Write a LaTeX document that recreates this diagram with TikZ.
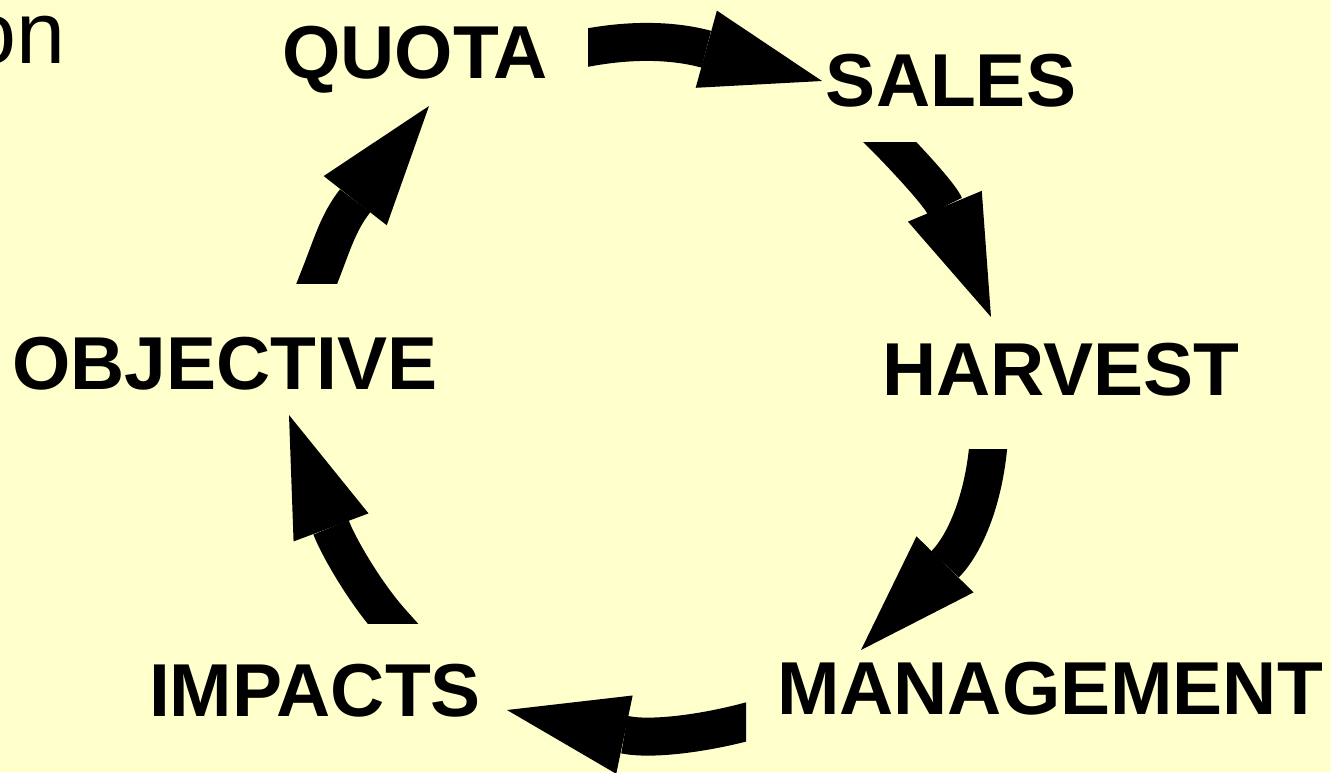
\documentclass[tikz,border=0pt]{standalone}
\usepackage{fontspec}
\setmainfont{Liberation Sans}
\usetikzlibrary{arrows.meta}
\definecolor{fond}{RGB}{255,255,204}

\tikzset{
  stage/.style={font=\bfseries\fontsize{75}{90}\selectfont, inner sep=0pt, anchor=base},
  flow/.style={line width=38pt, line cap=butt,
    -{Triangle[length=120pt, width=80pt, line width=0pt]}}
}

\begin{document}
\begin{tikzpicture}[x=1pt, y=-1pt]

  \fill[fond] (0,0) rectangle (1331,772);
  \useasboundingbox (0,0) rectangle (1331,772);
  \clip (0,0) rectangle (1331,772);

  % Reste du titre
  \node[inner sep=0pt, anchor=base east, font=\fontsize{88}{100}\selectfont] (titre) at (66,63) {on};

  % Etapes du cycle
  \node[stage] (quota)     at (415,78)    {QUOTA};
  \node[stage] (sales)     at (951,106)   {SALES};
  \node[stage] (harvest)   at (1061,395)  {HARVEST};
  \node[stage] (mgmt)      at (1050,714)  {MANAGEMENT};
  \node[stage] (impacts)   at (315,716)   {IMPACTS};
  \node[stage] (objective) at (225,389)   {OBJECTIVE};

  % Extremites des fleches
  \coordinate (q-s)  at (588,47.5);  \coordinate (q-s')  at (822,81);
  \coordinate (s-h)  at (890,142);   \coordinate (s-h')  at (991,317);
  \coordinate (h-m)  at (988,449);   \coordinate (h-m')  at (861,650);
  \coordinate (m-i)  at (746,722);   \coordinate (m-i')  at (507,710);
  \coordinate (i-o)  at (392,623);   \coordinate (i-o')  at (289,415);
  \coordinate (o-q)  at (317,283);   \coordinate (o-q')  at (429,106);

  % Fleches (queues coupees a l'horizontale ou a la verticale)
  \begin{scope}
    \clip (588,0) rectangle (1331,772);
    \draw[flow] (563,52) -- (q-s) .. controls (640,38)  and (680,42)  .. (q-s');
  \end{scope}
  \begin{scope}
    \clip (0,142) rectangle (1331,772);
    \draw[flow] (872,124) -- (s-h) .. controls (918,171) and (941,197) .. (s-h');
  \end{scope}
  \begin{scope}
    \clip (0,449) rectangle (1331,772);
    \draw[flow] (990.5,424) -- (h-m) .. controls (983,499) and (966,543) .. (h-m');
  \end{scope}
  \begin{scope}
    \clip (0,0) rectangle (746,772);
    \draw[flow] (770,716) -- (m-i) .. controls (700,734) and (650,740) .. (m-i');
  \end{scope}
  \begin{scope}
    \clip (0,0) rectangle (1331,623);
    \draw[flow] (409,642) -- (i-o) .. controls (365,593) and (338,546) .. (i-o');
  \end{scope}
  \begin{scope}
    \clip (0,0) rectangle (1331,283);
    \draw[flow] (308,306) -- (o-q) .. controls (332,246) and (337,224) .. (o-q');
  \end{scope}

\end{tikzpicture}
\end{document}
